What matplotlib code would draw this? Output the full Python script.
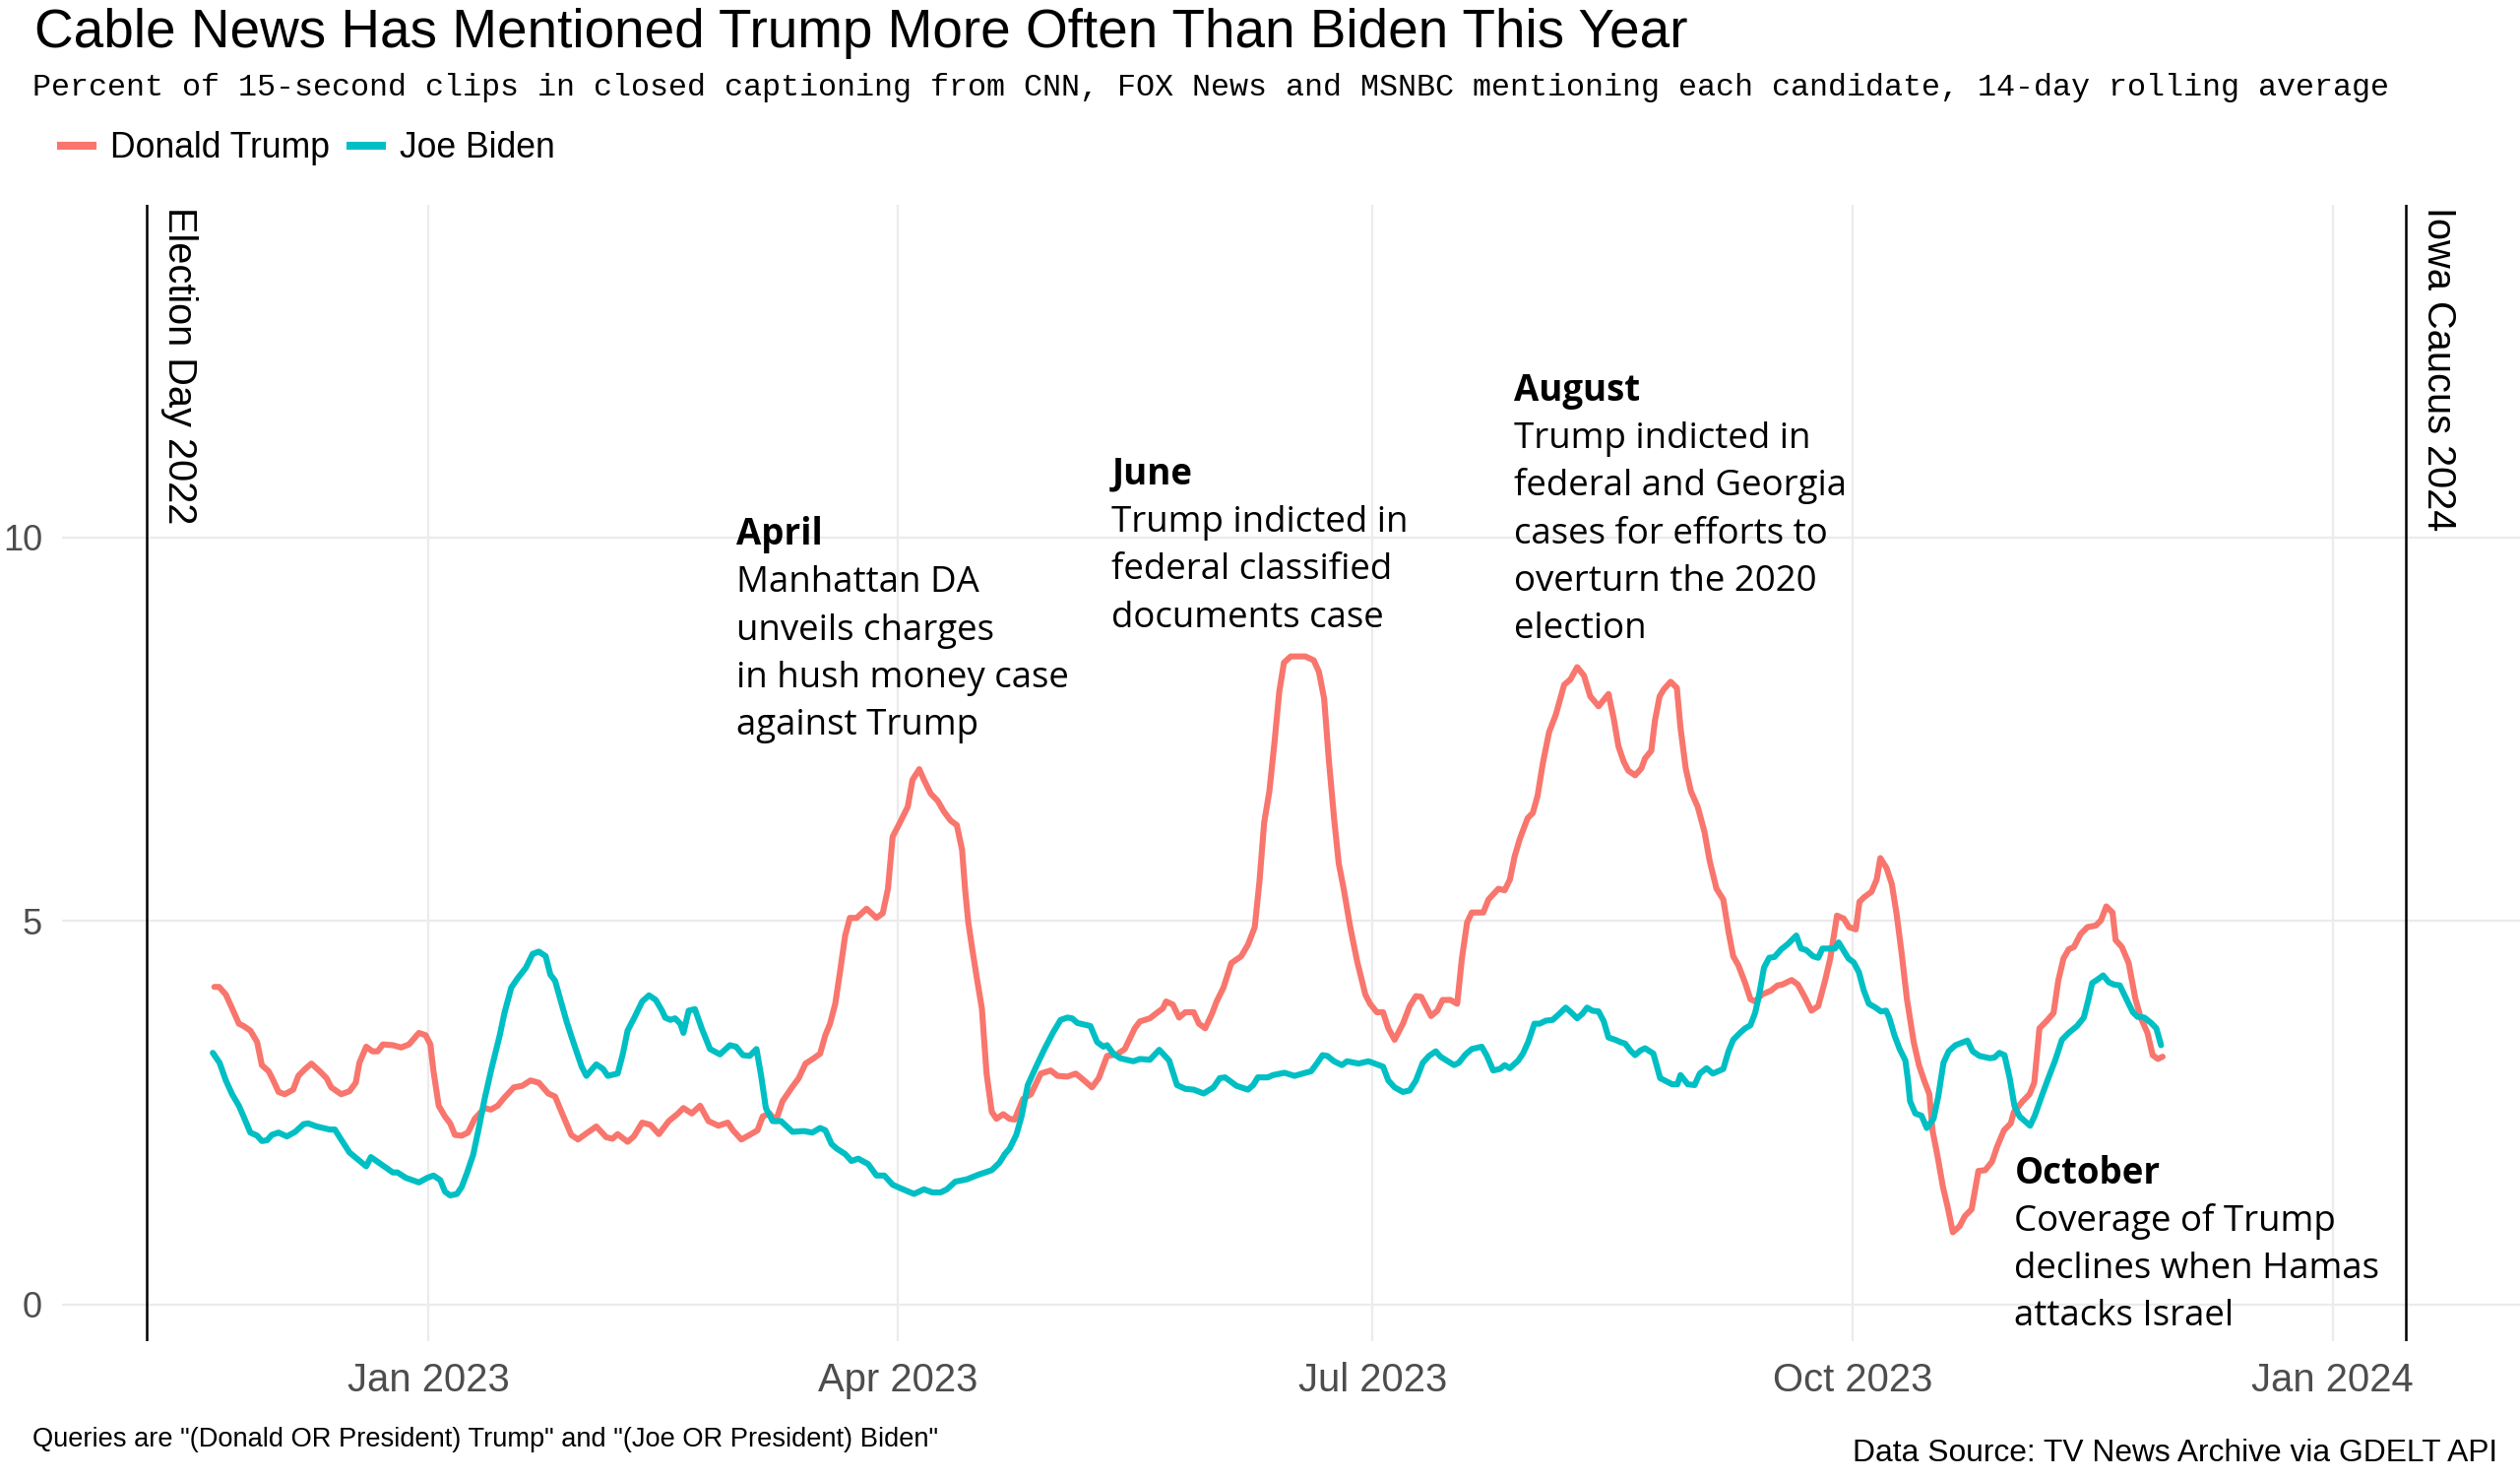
import pandas as pd
import matplotlib.pyplot as plt
from matplotlib.lines import Line2D

plt.rcParams['font.family'] = ['Liberation Sans', 'DejaVu Sans']

# days since 2023-01-01, share of 15-second clips (%), 14-day rolling average
trump_days = [
    -41.0, -40.1, -38.8, -37.6, -36.3, -35.4, -34.1, -32.8, -31.9, -30.6,
    -29.7, -28.7, -27.5, -25.9, -24.9, -23.6, -22.4, -20.8, -19.5, -18.6,
    -16.7, -15.1, -13.9, -13.2, -11.9, -10.7, -9.7, -8.7, -6.8, -5.2,
    -3.7, -1.8, -0.5, 0.4, 1.0, 2.0, 3.2, 4.2, 5.1, 6.4,
    7.6, 8.9, 10.8, 12.0, 13.3, 14.5, 16.4, 18.0, 19.6, 21.2,
    23.0, 24.3, 25.9, 27.4, 28.7, 29.9, 32.2, 34.1, 35.3, 36.3,
    38.2, 39.4, 41.0, 42.6, 44.2, 46.1, 47.7, 48.9, 50.5, 52.1,
    53.7, 55.6, 57.4, 58.4, 60.0, 61.6, 63.1, 64.1, 65.4, 66.6,
    67.9, 69.7, 71.0, 72.3, 73.9, 75.1, 76.1, 77.0, 78.0, 78.9,
    79.9, 80.8, 82.1, 84.0, 85.9, 87.1, 88.1, 89.0, 90.3, 91.9,
    92.8, 94.1, 95.0, 96.3, 97.6, 98.8, 100.1, 101.3, 102.3, 102.9,
    103.5, 104.2, 105.1, 106.1, 107.0, 108.0, 108.9, 110.2, 111.4, 112.4,
    114.0, 115.5, 117.4, 119.3, 120.6, 122.5, 124.1, 125.7, 127.2, 128.5,
    130.1, 132.0, 133.5, 135.4, 136.4, 138.3, 139.8, 140.8, 141.4, 142.7,
    143.9, 145.1, 146.7, 147.7, 148.9, 150.2, 151.1, 152.4, 153.9, 155.8,
    157.1, 158.4, 159.3, 160.2, 161.2, 162.2, 163.1, 164.0, 165.3, 168.1,
    169.7, 170.7, 171.7, 172.6, 173.6, 174.5, 175.5, 176.7, 178.0, 179.6,
    180.5, 181.8, 183.0, 184.0, 185.2, 186.8, 188.1, 189.3, 190.3, 192.2,
    193.4, 194.4, 195.9, 197.2, 198.1, 199.1, 200.0, 202.2, 203.2, 205.1,
    206.3, 207.3, 208.2, 209.2, 210.7, 211.7, 212.6, 213.6, 214.8, 216.1,
    217.7, 218.9, 220.2, 221.5, 222.7, 224.3, 226.2, 227.2, 228.1, 229.1,
    230.0, 231.3, 232.5, 233.2, 234.4, 235.1, 236.0, 236.8, 238.1, 239.3,
    240.0, 241.0, 242.0, 243.3, 244.6, 245.6, 246.9, 248.2, 249.2, 250.1,
    251.1, 252.4, 253.4, 254.3, 255.6, 257.3, 258.6, 259.5, 261.3, 262.5,
    263.8, 265.1, 266.4, 267.7, 268.7, 270.0, 271.3, 272.3, 273.6, 274.3,
    275.2, 276.6, 277.6, 278.3, 279.5, 280.5, 281.4, 282.4, 283.4, 284.7,
    285.7, 286.7, 287.7, 288.3, 289.3, 290.3, 291.2, 292.2, 293.5, 294.5,
    295.8, 297.1, 298.4, 299.7, 300.7, 302.0, 303.3, 303.9, 305.6, 306.9,
    307.8, 308.8, 310.1, 311.5, 312.4, 313.4, 314.4, 315.4, 316.7, 318.0,
    319.6, 320.6, 321.6, 322.8, 323.4, 324.6, 325.9, 327.2, 328.2, 329.5,
    330.5, 331.5, 332.4,
]
trump_pct = [
    4.14, 4.14, 4.04, 3.86, 3.66, 3.63, 3.57, 3.42, 3.12, 3.04,
    2.92, 2.77, 2.74, 2.80, 2.98, 3.07, 3.14, 3.04, 2.95, 2.83,
    2.74, 2.78, 2.89, 3.15, 3.36, 3.30, 3.30, 3.39, 3.38, 3.35,
    3.39, 3.54, 3.51, 3.39, 3.04, 2.59, 2.45, 2.36, 2.21, 2.20,
    2.24, 2.42, 2.56, 2.54, 2.59, 2.69, 2.83, 2.85, 2.92, 2.89,
    2.75, 2.71, 2.45, 2.21, 2.15, 2.21, 2.32, 2.18, 2.16, 2.22,
    2.12, 2.19, 2.37, 2.34, 2.22, 2.39, 2.48, 2.56, 2.49, 2.59,
    2.39, 2.33, 2.37, 2.27, 2.15, 2.21, 2.27, 2.45, 2.49, 2.39,
    2.65, 2.83, 2.95, 3.14, 3.21, 3.27, 3.51, 3.66, 3.92, 4.33,
    4.81, 5.04, 5.04, 5.16, 5.04, 5.10, 5.42, 6.10, 6.27, 6.49,
    6.84, 6.98, 6.84, 6.66, 6.57, 6.43, 6.31, 6.25, 5.93, 5.40,
    4.98, 4.66, 4.27, 3.86, 3.01, 2.51, 2.42, 2.48, 2.42, 2.41,
    2.68, 2.74, 3.01, 3.05, 2.98, 2.97, 3.01, 2.92, 2.83, 2.95,
    3.24, 3.26, 3.33, 3.60, 3.69, 3.73, 3.81, 3.86, 3.95, 3.91,
    3.74, 3.81, 3.81, 3.66, 3.60, 3.79, 3.95, 4.13, 4.45, 4.54,
    4.69, 4.92, 5.51, 6.28, 6.69, 7.34, 7.99, 8.37, 8.45, 8.45,
    8.40, 8.25, 7.90, 7.10, 6.34, 5.75, 5.40, 4.92, 4.48, 4.04,
    3.92, 3.81, 3.81, 3.60, 3.45, 3.66, 3.89, 4.02, 4.01, 3.76,
    3.83, 3.97, 3.97, 3.92, 4.51, 4.98, 5.11, 5.11, 5.28, 5.42,
    5.40, 5.54, 5.84, 6.07, 6.34, 6.41, 6.63, 7.05, 7.46, 7.69,
    8.08, 8.15, 8.31, 8.20, 7.93, 7.80, 7.96, 7.64, 7.28, 7.08,
    6.96, 6.90, 6.99, 7.12, 7.22, 7.61, 7.93, 8.02, 8.12, 8.04,
    7.52, 6.99, 6.69, 6.49, 6.16, 5.78, 5.42, 5.28, 4.86, 4.54,
    4.42, 4.19, 3.98, 3.95, 4.04, 4.09, 4.16, 4.17, 4.23, 4.17,
    4.01, 3.83, 3.89, 4.22, 4.51, 5.07, 5.03, 4.92, 4.89, 5.25,
    5.31, 5.38, 5.54, 5.82, 5.69, 5.48, 5.10, 4.57, 3.98, 3.42,
    3.12, 2.92, 2.74, 2.27, 1.92, 1.53, 1.27, 0.94, 1.02, 1.15,
    1.24, 1.74, 1.75, 1.86, 2.06, 2.27, 2.36, 2.51, 2.65, 2.74,
    2.89, 3.60, 3.69, 3.80, 4.22, 4.51, 4.63, 4.66, 4.83, 4.92,
    4.94, 5.01, 5.19, 5.11, 4.75, 4.66, 4.45, 3.98, 3.74, 3.54,
    3.25, 3.20, 3.23,
]

biden_days = [
    -41.3, -40.0, -38.8, -37.6, -36.3, -35.4, -34.1, -32.8, -31.9, -30.9,
    -30.0, -28.7, -27.1, -25.5, -23.9, -23.0, -21.4, -18.9, -17.9, -16.7,
    -15.1, -13.5, -11.9, -11.0, -8.7, -6.8, -5.9, -4.3, -1.8, -0.2,
    1.0, 2.3, 3.2, 4.2, 5.5, 6.4, 7.4, 8.6, 9.6, 10.8,
    12.1, 13.7, 14.6, 15.9, 17.1, 18.7, 20.0, 21.2, 22.5, 23.4,
    24.3, 25.3, 26.5, 27.5, 28.7, 29.4, 30.3, 32.2, 33.5, 34.4,
    36.3, 37.3, 38.2, 39.5, 41.0, 42.3, 43.6, 44.8, 45.4, 46.4,
    47.3, 48.3, 48.9, 49.9, 51.1, 52.4, 54.0, 55.9, 57.8, 59.0,
    60.3, 61.6, 62.9, 63.8, 64.7, 66.0, 67.6, 69.8, 72.0, 73.6,
    75.1, 76.1, 77.3, 78.3, 79.9, 81.1, 82.4, 84.3, 85.9, 87.4,
    89.0, 90.3, 93.1, 95.0, 96.6, 98.2, 99.4, 101.0, 103.2, 105.4,
    108.0, 109.5, 110.5, 111.4, 112.7, 113.7, 114.9, 116.5, 118.1, 119.7,
    121.2, 122.5, 123.4, 124.4, 126.9, 128.2, 129.4, 130.1, 131.3, 132.6,
    135.1, 136.4, 138.3, 140.1, 142.0, 143.5, 145.1, 146.7, 148.6, 150.5,
    151.7, 152.7, 154.9, 157.1, 158.1, 159.0, 160.9, 161.9, 164.1, 166.0,
    167.6, 169.2, 170.4, 171.4, 172.3, 173.6, 175.1, 176.1, 178.3, 180.2,
    181.4, 183.0, 184.0, 185.2, 186.8, 188.1, 189.3, 190.6, 191.8, 193.1,
    194.0, 196.6, 197.5, 198.8, 200.0, 201.9, 202.9, 204.1, 205.4, 206.3,
    207.3, 208.9, 209.8, 210.8, 212.0, 213.0, 214.2, 215.5, 216.8, 218.0,
    219.0, 220.2, 221.2, 222.1, 223.1, 224.3, 225.3, 226.2, 227.5, 228.5,
    229.4, 230.4, 231.3, 232.3, 233.2, 234.8, 236.1, 238.4, 239.4, 240.0,
    241.4, 242.7, 243.7, 245.0, 246.2, 248.2, 249.2, 250.1, 251.4, 252.4,
    253.4, 254.3, 255.0, 256.0, 257.0, 258.0, 259.3, 260.6, 262.2, 263.1,
    264.1, 265.4, 266.4, 267.2, 268.6, 269.6, 270.3, 271.2, 272.2, 273.2,
    274.2, 275.1, 276.1, 277.4, 278.4, 279.4, 280.0, 281.0, 282.0, 283.1,
    283.6, 284.0, 285.0, 286.2, 287.2, 288.5, 289.4, 290.4, 291.4, 292.7,
    295.0, 296.0, 297.3, 299.3, 300.2, 301.1, 302.1, 303.1, 304.0, 305.0,
    306.0, 307.0, 307.9, 309.2, 310.5, 311.8, 313.1, 314.4, 316.0, 317.3,
    318.2, 318.9, 319.8, 321.0, 322.1, 323.1, 324.2, 325.4, 326.7, 327.6,
    328.9, 330.2, 331.2, 332.1,
]
biden_pct = [
    3.28, 3.15, 2.92, 2.74, 2.59, 2.45, 2.24, 2.20, 2.13, 2.14,
    2.21, 2.24, 2.19, 2.25, 2.35, 2.36, 2.32, 2.28, 2.28, 2.15,
    1.98, 1.89, 1.80, 1.92, 1.81, 1.72, 1.72, 1.65, 1.59, 1.65,
    1.68, 1.62, 1.47, 1.42, 1.44, 1.53, 1.71, 1.95, 2.27, 2.68,
    3.07, 3.51, 3.80, 4.13, 4.25, 4.39, 4.57, 4.60, 4.54, 4.30,
    4.22, 3.98, 3.69, 3.48, 3.24, 3.10, 2.98, 3.13, 3.07, 2.98,
    3.01, 3.27, 3.57, 3.74, 3.95, 4.03, 3.97, 3.83, 3.74, 3.71,
    3.73, 3.66, 3.54, 3.83, 3.85, 3.60, 3.33, 3.26, 3.38, 3.36,
    3.25, 3.24, 3.33, 2.98, 2.56, 2.39, 2.39, 2.25, 2.26, 2.24,
    2.30, 2.27, 2.09, 2.03, 1.96, 1.87, 1.90, 1.83, 1.68, 1.68,
    1.56, 1.52, 1.44, 1.50, 1.46, 1.46, 1.50, 1.60, 1.63, 1.69,
    1.75, 1.85, 1.96, 2.03, 2.21, 2.45, 2.86, 3.10, 3.33, 3.54,
    3.71, 3.74, 3.73, 3.67, 3.63, 3.42, 3.36, 3.38, 3.27, 3.21,
    3.17, 3.20, 3.19, 3.32, 3.18, 2.86, 2.81, 2.80, 2.75, 2.83,
    2.95, 2.96, 2.85, 2.80, 2.86, 2.96, 2.96, 2.99, 3.02, 2.98,
    3.01, 3.04, 3.15, 3.25, 3.24, 3.17, 3.12, 3.17, 3.14, 3.17,
    3.14, 3.10, 2.92, 2.83, 2.77, 2.79, 2.92, 3.15, 3.24, 3.30,
    3.23, 3.12, 3.15, 3.26, 3.33, 3.36, 3.24, 3.05, 3.07, 3.12,
    3.08, 3.18, 3.27, 3.42, 3.66, 3.66, 3.70, 3.71, 3.79, 3.87,
    3.81, 3.73, 3.79, 3.87, 3.83, 3.82, 3.69, 3.48, 3.45, 3.42,
    3.40, 3.31, 3.25, 3.31, 3.34, 3.27, 2.95, 2.87, 2.87, 2.99,
    2.87, 2.86, 3.01, 3.08, 3.01, 3.07, 3.30, 3.45, 3.54, 3.60,
    3.64, 3.80, 4.01, 4.39, 4.52, 4.53, 4.63, 4.70, 4.81, 4.64,
    4.62, 4.54, 4.52, 4.64, 4.64, 4.64, 4.72, 4.62, 4.51, 4.46,
    4.33, 4.10, 3.92, 3.87, 3.82, 3.83, 3.74, 3.51, 3.33, 3.18,
    2.92, 2.65, 2.49, 2.46, 2.30, 2.42, 2.71, 3.15, 3.30, 3.38,
    3.44, 3.30, 3.24, 3.21, 3.22, 3.28, 3.25, 2.95, 2.59, 2.45,
    2.39, 2.33, 2.46, 2.71, 2.95, 3.18, 3.45, 3.54, 3.63, 3.74,
    3.98, 4.19, 4.23, 4.29, 4.20, 4.17, 4.16, 3.99, 3.81, 3.75,
    3.74, 3.67, 3.60, 3.38,
]

event_labels = ["Election Day 2022", "Iowa Caucus 2024"]
event_dates = ["2022-11-08", "2024-01-15"]

note_heads = ["April", "June", "August", "October"]
note_dates = ["2023-03-01", "2023-05-12", "2023-07-28", "2023-11-01"]
note_bodies = [
    ["Manhattan DA", "unveils charges", "in hush money case", "against Trump"],
    ["Trump indicted in", "federal classified", "documents case"],
    ["Trump indicted in", "federal and Georgia", "cases for efforts to",
     "overturn the 2020", "election"],
    ["Coverage of Trump", "declines when Hamas", "attacks Israel"],
]

tick_dates = ["2023-01-01", "2023-04-01", "2023-07-01", "2023-10-01", "2024-01-01"]

RED = "#F8766D"
TEAL = "#00BFC4"
GREY = "#4D4D4D"

base = pd.Timestamp("2023-01-01")
t_dates = base + pd.to_timedelta(trump_days, unit="D")
b_dates = base + pd.to_timedelta(biden_days, unit="D")

W, H = 2560, 1502
fig = plt.figure(figsize=(W / 200, H / 200), dpi=200)
ax = fig.add_axes([63 / W, 1 - 1362 / H, 1 - 63 / W, (1362 - 208) / H])

ax.plot(t_dates, trump_pct, color=RED, lw=2.2, solid_joinstyle="round",
        solid_capstyle="round", zorder=3)
ax.plot(b_dates, biden_pct, color=TEAL, lw=2.2, solid_joinstyle="round",
        solid_capstyle="round", zorder=3)

ax.set_xlim(base + pd.Timedelta(days=-70.2), base + pd.Timedelta(days=400.9))
ax.set_ylim(-0.48, 14.34)

ax.set_xticks(pd.to_datetime(tick_dates))
ax.set_xticklabels([pd.Timestamp(d).strftime("%b %Y") for d in tick_dates])
ax.set_yticks([0, 5, 10])
ax.set_yticklabels(["0", "5", "10"])
ax.tick_params(axis="x", length=0, labelsize=14.4, labelcolor=GREY, pad=7.6)
ax.tick_params(axis="y", length=0, labelsize=13, labelcolor=GREY, pad=7.2)
ax.grid(True, color="#EBEBEB", lw=0.8)
ax.set_axisbelow(True)
for s in ax.spines.values():
    s.set_visible(False)

# vertical event lines with rotated labels
for lab, d in zip(event_labels, event_dates):
    ax.axvline(pd.Timestamp(d), color="black", lw=0.9, zorder=2)
    ax.annotate(lab, xy=(pd.Timestamp(d), 1), xycoords=("data", "axes fraction"),
                xytext=(5, -0.7), textcoords="offset points",
                rotation=270, rotation_mode="anchor", ha="left", va="bottom",
                fontsize=14.3, color="black")

# event annotations
note_y = [9.91, 10.695, 11.786, 1.58]
step = 0.62
for head, d, body, y0 in zip(note_heads, note_dates, note_bodies, note_y):
    x = pd.Timestamp(d)
    ax.text(x, y0, head, family="Open Sans", fontweight="bold", fontsize=13.2,
            va="baseline", ha="left")
    for i, line in enumerate(body):
        ax.text(x, y0 - (i + 1) * step, line, family="Open Sans", fontsize=13.2,
                va="baseline", ha="left")

fig.text(35 / W, 1 - 48.3 / H,
         "Cable News Has Mentioned Trump More Often Than Biden This Year",
         fontsize=19.75, va="baseline", ha="left")
fig.text(33 / W, 1 - 96.7 / H,
         "Percent of 15-second clips in closed captioning from CNN, FOX News and "
         "MSNBC mentioning each candidate, 14-day rolling average",
         family="Liberation Mono", fontsize=11.45, va="baseline", ha="left")

handles = [Line2D([], [], color=RED, lw=2.9), Line2D([], [], color=TEAL, lw=2.9)]
fig.legend(handles, ["Donald Trump", "Joe Biden"], loc="center left",
           bbox_to_anchor=(62 / W, 1 - 150.7 / H), ncol=2, frameon=False,
           fontsize=12.8, handlelength=0.9, handletextpad=0.5,
           columnspacing=0.6, borderpad=0, borderaxespad=0)

fig.text(33 / W, 1 - 1469 / H,
         'Queries are "(Donald OR President) Trump" and "(Joe OR President) Biden"',
         fontsize=9.8, va="baseline", ha="left")
fig.text(2537 / W, 1 - 1484 / H, "Data Source: TV News Archive via GDELT API",
         fontsize=11.45, va="baseline", ha="right")

fig.savefig("out.png", dpi=200)
print("Saved out.png")
